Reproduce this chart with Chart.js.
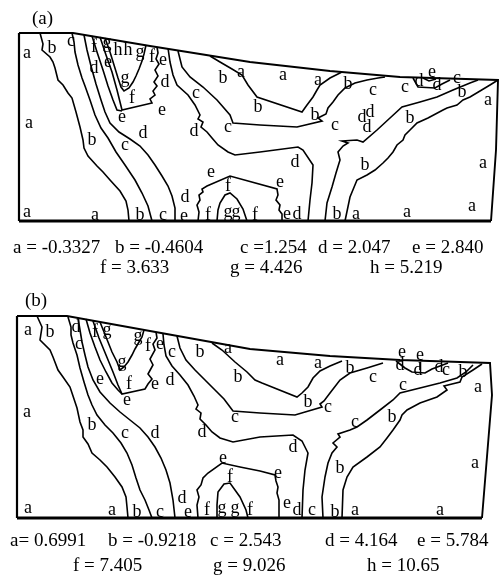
<!DOCTYPE html>
<html>
<head>
<meta charset="utf-8">
<script src="https://cdn.jsdelivr.net/npm/chart.js@4.4.1/dist/chart.umd.min.js"></script>
<style>
    body { margin: 0; background: #fff; }
    #wrap { position: relative; width: 502px; height: 576px; font-family: "Liberation Serif", "Times New Roman", serif; color: #000; }
    #wrap canvas { position: absolute; left: 0; top: 0; }
    .t { position: absolute; font-size: 19px; line-height: 20px; white-space: pre; }
</style>
</head>
<body>
<div id="wrap"><canvas id="contourChart" width="502" height="576"></canvas></div>
<script>
// ---- data: section (a) ----  [x, depth]
const levelNames = ['a', 'b', 'c', 'd', 'e', 'f', 'g', 'h'];
const levelsA = ['-0.3327', '-0.4604', '1.254', '2.047', '2.840', '3.633', '4.426', '5.219'];
const levelsB = ['0.6991', '-0.9218', '2.543', '4.164', '5.784', '7.405', '9.026', '10.65'];
const sepA = [' = ', ' = ', ' =', ' = ', ' = ', ' = ', ' = ', ' = '];
const sepB = ['= ', ' = ', ' = ', ' = ', ' = ', ' = ', ' = ', ' = '];

const outlineA = [[19,33],[73,33],[150,46],[250,62],[330,71],[400,77],[498,80],[496,150],[491,221]];
const floorA = [[19,221],[491,221]];
const sideA = [[19,33],[19,221]];
const lineA1 = [[40,33],[43,44],[42,50],[50,57],[53,62],[55,68],[58,80],[63,85],[68,93],[72,98],[76,112],[80,127],[83,140],[84,148],[88,156],[97,166],[103,172],[110,180],[120,191],[126,201],[128,210],[129,221]];
const lineA2 = [[72,33],[74,42],[75,52],[78,65],[82,78],[85,86],[90,100],[95,115],[101,128],[108,138],[116,152],[125,165],[135,180],[142,193],[148,206],[152,221]];
const lineA3 = [[84,35],[87,50],[91,66],[96,84],[101,100],[105,112],[110,123],[119,132],[130,139],[140,146],[148,155],[155,165],[162,176],[168,186],[172,196],[175,208],[175,221]];
const lineA4 = [[92,36],[97,52],[103,70],[108,86],[113,100],[117,110],[122,111]];
const vfA = [[100,37],[106,55],[112,72],[117,90],[122,110],[152,103],[150,99],[155,95],[153,91],[157,86],[154,82],[158,76],[155,70],[159,64],[156,59],[158,53],[157,47]];
const vgA = [[105,38],[110,52],[114,65],[118,78],[121,87],[124,91],[129,88],[133,82],[136,76],[139,69],[142,61],[144,54],[146,45]];
const dA = [[168,48],[170,62],[173,75],[177,85],[188,95],[195,105],[200,115],[198,119],[203,122],[201,127],[207,132],[212,138],[218,145],[228,152],[235,155],[260,152],[298,147],[303,150],[313,165],[312,183],[310,200],[308,221]];
const cA = [[178,51],[182,67],[190,77],[203,87],[217,100],[230,115],[233,123],[260,125],[297,127],[322,121],[318,118],[326,114],[328,108],[333,102],[338,95],[345,88],[355,83],[367,80],[378,78],[385,77]];
const vaA = [[210,56],[220,62],[232,69],[242,75],[248,85],[257,97],[302,112],[307,105],[313,97],[317,90],[320,85],[330,78],[342,72]];
const eA = [[198,221],[199,212],[197,205],[200,200],[199,195],[203,192],[202,189],[207,186],[230,176],[277,189],[278,195],[276,200],[280,205],[279,210],[282,214],[282,221]];
const fA = [[217,221],[218,210],[220,203],[225,195],[230,193],[237,199],[243,209],[247,221]];
const gA = [[325,221],[327,203],[332,187],[336,173],[340,160],[338,152],[343,146],[348,143],[342,141],[357,140],[363,142],[377,130],[390,118],[402,107],[420,102],[437,97],[453,90],[470,83],[478,80]];
const hA = [[345,221],[350,197],[357,180],[367,175],[375,170],[383,163],[388,158],[393,152],[397,145],[403,140],[405,135],[410,130],[417,123],[428,118],[443,110],[447,108],[457,105],[463,100],[470,97],[480,91],[490,85],[498,80]];
const dSmallA = [[413,78],[418,87],[435,88],[442,84],[450,80]];
const eSmallA = [[423,78],[429,81],[436,79]];

const tagsA = [['a',27,53],['b',52,48],['c',71,41],['f',94,47],['g',107,43],['h',118,50],['h',128,50],['g',140,52],['f',152,57],['e',163,60],
    ['e',108,62],['d',94,68],['g',125,78],['f',132,98],['e',122,117],['d',165,82],['e',162,110],['a',29,123],['b',92,140],['c',125,145],
    ['d',143,133],['c',196,93],['d',194,131],['c',228,127],['e',211,172],['f',228,186],['g',228,212],['g',236,212],['f',208,215],['f',255,215],
    ['e',280,182],['e',287,214],['d',297,214],['d',295,162],['b',337,214],['a',356,214],['a',407,212],['a',472,206],['a',483,163],['a',488,100],
    ['b',462,92],['c',457,78],['d',437,85],['e',432,72],['d',419,81],['c',405,87],['d',362,117],['d',370,112],['d',367,127],['b',410,118],
    ['b',365,165],['c',335,125],['b',315,115],['c',373,90],['b',348,84],['a',318,80],['a',283,75],['a',241,72],['b',223,78],['b',258,107],
    ['a',27,212],['a',95,215],['b',140,215],['c',163,215],['e',184,216],['d',185,197]];

// ---- data: section (b) ----
const outlineB = [[17,316],[67,316],[150,331],[250,349],[330,356],[400,360],[490,363],[492,395],[482,518]];
const floorB = [[17,518],[482,518]];
const sideB = [[17,316],[17,518]];
const lineB1 = [[37,316],[42,327],[40,340],[50,350],[53,357],[58,370],[63,377],[70,387],[72,393],[77,408],[80,422],[83,430],[83,437],[88,444],[92,453],[100,460],[107,467],[115,477],[122,487],[126,497],[127,507],[128,518]];
const lineB2 = [[68,317],[71,327],[71,335],[73,343],[77,355],[80,368],[84,382],[88,395],[92,405],[97,415],[105,425],[113,433],[121,443],[127,453],[132,465],[136,478],[140,490],[145,500],[149,510],[152,518]];
const lineB3 = [[78,318],[80,330],[82,342],[85,355],[88,367],[93,380],[100,392],[110,403],[120,412],[130,420],[140,428],[148,437],[155,447],[161,458],[166,470],[170,483],[173,500],[175,518]];
const lineB4 = [[86,319],[90,333],[95,347],[100,360],[106,372],[112,383],[118,390],[122,394]];
const vfB = [[93,321],[99,338],[106,355],[113,372],[118,385],[122,394],[145,389],[148,384],[152,379],[148,374],[153,365],[150,359],[155,350],[153,344],[157,338],[156,332]];
const vgB = [[100,322],[106,337],[112,352],[117,362],[120,370],[124,367],[128,362],[132,355],[135,349],[139,342],[142,337],[144,330]];
const dB = [[163,334],[164,345],[166,356],[172,366],[180,375],[188,385],[194,396],[198,405],[196,409],[201,413],[200,419],[206,425],[212,432],[220,438],[233,442],[260,437],[293,435],[302,441],[308,453],[305,470],[303,490],[302,518]];
const cB = [[177,336],[180,348],[186,360],[195,370],[205,380],[215,390],[224,399],[230,407],[233,411],[260,413],[295,415],[322,407],[320,404],[324,401],[330,393],[340,380],[350,373],[367,368],[383,363]];
const vaB = [[212,343],[222,350],[235,362],[247,372],[255,380],[262,383],[297,397],[302,393],[308,387],[313,378],[320,371],[330,366],[342,361]];
const eB = [[198,518],[197,505],[199,497],[197,490],[201,485],[203,478],[208,473],[222,463],[240,467],[260,471],[275,475],[276,481],[278,487],[277,493],[279,500],[279,518]];
const fB = [[217,518],[217,505],[218,492],[224,484],[230,483],[235,490],[240,497],[246,510],[248,518]];
const gB = [[323,518],[322,497],[325,477],[328,463],[332,453],[337,447],[333,443],[340,437],[338,434],[350,430],[357,427],[367,420],[380,410],[393,400],[400,393],[420,388],[440,383],[457,378],[466,372],[473,365]];
const hB = [[342,518],[343,490],[347,477],[353,467],[367,457],[380,447],[387,438],[393,430],[400,420],[402,415],[407,410],[420,403],[437,397],[447,390],[444,386],[452,384],[460,382],[462,377],[473,370],[482,364]];
const dSmallB = [[396,361],[405,368],[412,372],[425,373],[432,369],[440,366],[448,363]];
const eSmallB = [[420,362],[420,370]];

const tagsB = [['a',28,330],['b',50,332],['d',76,327],['c',79,344],['f',95,332],['g',107,330],['g',138,336],['f',148,346],['e',160,344],['c',172,352],
    ['g',122,362],['e',100,379],['f',129,384],['e',155,384],['d',170,380],['e',127,400],['a',27,412],['b',92,425],['c',125,433],['d',155,433],
    ['d',202,432],['c',235,417],['b',238,377],['b',200,352],['a',228,348],['e',223,458],['f',230,477],['d',182,498],['a',28,508],['a',112,510],
    ['b',137,512],['c',160,512],['e',188,512],['f',207,510],['g',222,508],['g',235,508],['f',250,510],['a',280,360],['a',318,363],['b',350,368],
    ['c',373,377],['b',308,402],['c',328,407],['c',403,385],['c',355,422],['b',392,417],['b',340,468],['d',293,447],['e',278,473],['e',287,503],
    ['d',297,510],['c',312,510],['b',335,512],['a',355,510],['a',440,510],['a',475,463],['a',478,387],['e',402,352],['e',420,355],['d',400,365],
    ['d',418,370],['d',439,367],['c',446,370],['b',463,372]];

// ---- layout of the text rows under each section ----
const legendSpotsA = [[13,237],[115,237],[240,237],[318,237],[412,237],[100,257],[230,257],[370,257]];
const legendSpotsB = [[10,530],[108,530],[210,530],[325,530],[417,530],[73,555],[213,555],[367,555]];

const wrap = document.getElementById('wrap');
function addText(txt, left, top, size) {
    const s = document.createElement('span');
    s.className = 't';
    s.textContent = txt;
    s.style.left = left + 'px';
    s.style.top = top + 'px';
    if (size) s.style.fontSize = size + 'px';
    wrap.appendChild(s);
}
addText('(a)', 32, 8);
addText('(b)', 25, 290);
levelNames.forEach((n, i) => {
    addText(n + sepA[i] + levelsA[i], legendSpotsA[i][0], legendSpotsA[i][1]);
    addText(n + sepB[i] + levelsB[i], legendSpotsB[i][0], legendSpotsB[i][1]);
});

function pts(arr) {
    return arr.map(p => ({ x: p[0], y: p[1] }));
}
function contour(arr, w) {
    return {
        data: pts(arr),
        showLine: true,
        borderColor: '#000',
        borderWidth: w || 1.6,
        pointRadius: 0,
        fill: false,
        tension: 0
    };
}

const letterPlugin = {
    id: 'contourLetters',
    afterDatasetsDraw(chart) {
        const ctx = chart.ctx;
        const xs = chart.scales.x, ys = chart.scales.y;
        ctx.save();
        ctx.fillStyle = '#000';
        ctx.font = '18px "Liberation Serif", "Times New Roman", serif';
        ctx.textAlign = 'center';
        ctx.textBaseline = 'middle';
        tagsA.concat(tagsB).forEach(t => {
            ctx.fillText(t[0], xs.getPixelForValue(t[1]), ys.getPixelForValue(t[2]));
        });
        ctx.restore();
    }
};

const ctx = document.getElementById('contourChart').getContext('2d');
new Chart(ctx, {
    type: 'scatter',
    data: {
        datasets: [
            contour(outlineA, 1.9), contour(sideA, 2.2), contour(floorA, 3),
            contour(lineA1), contour(lineA2), contour(lineA3), contour(lineA4),
            contour(vfA), contour(vgA), contour(dA), contour(cA), contour(vaA),
            contour(eA), contour(fA), contour(gA), contour(hA), contour(dSmallA), contour(eSmallA),
            contour(outlineB, 1.9), contour(sideB, 2.2), contour(floorB, 3),
            contour(lineB1), contour(lineB2), contour(lineB3), contour(lineB4),
            contour(vfB), contour(vgB), contour(dB), contour(cB), contour(vaB),
            contour(eB), contour(fB), contour(gB), contour(hB), contour(dSmallB), contour(eSmallB)
        ]
    },
    options: {
        responsive: false,
        animation: false,
        layout: { padding: 0 },
        plugins: {
            legend: { display: false },
            tooltip: { enabled: false }
        },
        scales: {
            x: { type: 'linear', min: 0, max: 502, display: false },
            y: { type: 'linear', min: 0, max: 576, reverse: true, display: false }
        }
    },
    plugins: [letterPlugin]
});
</script>
</body>
</html>
